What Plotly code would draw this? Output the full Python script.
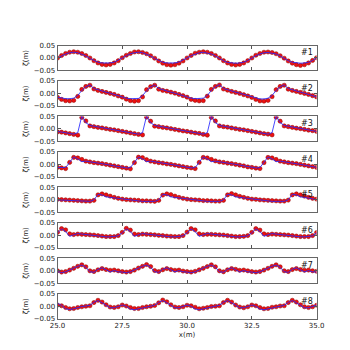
import numpy as np
import plotly.graph_objects as go

# sampling positions along the flume (m)
x = np.linspace(25.0, 35.0, 65)

# measured surface elevation (red dots) and model (blue line), gauges #1..#8
meas1 = [0.000, 0.010, 0.018, 0.023, 0.025, 0.023, 0.018, 0.010, 0.000, -0.011, -0.020, -0.026, -0.028, -0.026, -0.020, -0.011,
         0.001, 0.011, 0.018, 0.024, 0.025, 0.022, 0.017, 0.009, -0.001, -0.012, -0.021, -0.027, -0.029, -0.027, -0.021, -0.012,
         0.000, 0.010, 0.019, 0.023, 0.025, 0.023, 0.018, 0.010, 0.000, -0.011, -0.020, -0.026, -0.028, -0.026, -0.020, -0.011,
         0.000, 0.011, 0.018, 0.023, 0.024, 0.022, 0.017, 0.009, -0.001, -0.012, -0.021, -0.027, -0.030, -0.027, -0.020, -0.010,
         0.001]
model1 = [0.000, 0.009, 0.016, 0.021, 0.023, 0.021, 0.016, 0.008, -0.002, -0.011, -0.017, -0.020, -0.021, -0.020, -0.017, -0.010,
          0.000, 0.009, 0.017, 0.021, 0.023, 0.021, 0.016, 0.008, -0.002, -0.011, -0.017, -0.020, -0.021, -0.020, -0.016, -0.009,
          0.000, 0.009, 0.016, 0.021, 0.023, 0.021, 0.016, 0.008, -0.002, -0.011, -0.018, -0.021, -0.021, -0.020, -0.017, -0.010,
          0.000, 0.009, 0.016, 0.021, 0.022, 0.020, 0.016, 0.008, -0.002, -0.011, -0.017, -0.020, -0.021, -0.020, -0.017, -0.010,
          0.000]

meas2 = [-0.016, -0.024, -0.029, -0.030, -0.028, -0.012, 0.016, 0.028, 0.033, 0.018, 0.012, 0.008, 0.004, 0.000, -0.004, -0.010,
         -0.015, -0.023, -0.029, -0.031, -0.029, -0.014, 0.015, 0.027, 0.033, 0.017, 0.012, 0.009, 0.005, 0.001, -0.004, -0.009,
         -0.015, -0.024, -0.028, -0.030, -0.029, -0.011, 0.016, 0.028, 0.034, 0.018, 0.013, 0.008, 0.004, 0.000, -0.005, -0.010,
         -0.016, -0.024, -0.030, -0.031, -0.028, -0.013, 0.015, 0.028, 0.033, 0.017, 0.012, 0.008, 0.004, 0.000, -0.004, -0.009,
         -0.014]
model2 = [-0.015, -0.019, -0.021, -0.021, -0.019, -0.008, 0.012, 0.027, 0.034, 0.020, 0.014, 0.010, 0.005, 0.001, -0.004, -0.010,
          -0.015, -0.019, -0.021, -0.022, -0.020, -0.009, 0.011, 0.026, 0.034, 0.020, 0.014, 0.010, 0.005, 0.001, -0.004, -0.010,
          -0.015, -0.019, -0.021, -0.021, -0.019, -0.008, 0.012, 0.027, 0.035, 0.020, 0.014, 0.010, 0.005, 0.001, -0.004, -0.010,
          -0.015, -0.019, -0.022, -0.022, -0.019, -0.008, 0.012, 0.027, 0.034, 0.020, 0.014, 0.010, 0.005, 0.001, -0.004, -0.010,
          -0.014]

meas3 = [-0.012, -0.013, -0.016, -0.019, -0.022, -0.025, 0.046, 0.032, 0.012, 0.009, 0.006, 0.004, 0.001, -0.002, -0.004, -0.007,
         -0.010, -0.013, -0.016, -0.019, -0.022, -0.024, 0.047, 0.031, 0.011, 0.009, 0.006, 0.004, 0.001, -0.002, -0.005, -0.008,
         -0.010, -0.013, -0.016, -0.018, -0.022, -0.025, 0.046, 0.032, 0.012, 0.009, 0.007, 0.004, 0.001, -0.002, -0.004, -0.007,
         -0.010, -0.013, -0.016, -0.019, -0.021, -0.024, 0.047, 0.031, 0.012, 0.009, 0.006, 0.003, 0.001, -0.002, -0.005, -0.007,
         -0.010]
model3 = [-0.010, -0.013, -0.016, -0.019, -0.021, -0.015, 0.052, 0.025, 0.014, 0.011, 0.008, 0.005, 0.002, -0.001, -0.004, -0.007,
          -0.010, -0.013, -0.016, -0.019, -0.021, -0.015, 0.052, 0.025, 0.014, 0.011, 0.008, 0.005, 0.002, -0.001, -0.004, -0.007,
          -0.010, -0.013, -0.016, -0.019, -0.021, -0.015, 0.052, 0.025, 0.014, 0.011, 0.008, 0.005, 0.002, -0.001, -0.004, -0.007,
          -0.010, -0.013, -0.016, -0.019, -0.021, -0.015, 0.052, 0.025, 0.014, 0.011, 0.008, 0.005, 0.002, -0.001, -0.004, -0.007,
          -0.010]

meas4 = [-0.012, -0.014, -0.017, 0.008, 0.028, 0.026, 0.020, 0.013, 0.010, 0.007, 0.005, 0.003, 0.000, -0.003, -0.006, -0.009,
         -0.012, -0.015, -0.018, 0.007, 0.029, 0.027, 0.019, 0.013, 0.010, 0.007, 0.005, 0.002, 0.000, -0.003, -0.006, -0.009,
         -0.012, -0.014, -0.017, 0.008, 0.028, 0.026, 0.020, 0.014, 0.010, 0.008, 0.005, 0.003, 0.000, -0.003, -0.006, -0.010,
         -0.012, -0.015, -0.017, 0.007, 0.028, 0.026, 0.020, 0.013, 0.010, 0.007, 0.005, 0.003, 0.000, -0.003, -0.006, -0.009,
         -0.012]
model4 = [-0.012, -0.014, -0.013, 0.008, 0.030, 0.022, 0.011, 0.013, 0.011, 0.008, 0.005, 0.003, 0.000, -0.003, -0.006, -0.009,
          -0.012, -0.014, -0.013, 0.008, 0.030, 0.022, 0.011, 0.013, 0.011, 0.008, 0.005, 0.003, 0.000, -0.003, -0.006, -0.009,
          -0.012, -0.014, -0.013, 0.008, 0.030, 0.022, 0.011, 0.013, 0.011, 0.008, 0.005, 0.003, 0.000, -0.003, -0.006, -0.009,
          -0.012, -0.014, -0.013, 0.008, 0.030, 0.022, 0.011, 0.013, 0.011, 0.008, 0.005, 0.003, 0.000, -0.003, -0.006, -0.009,
          -0.012]

meas5 = [0.002, 0.001, 0.000, -0.001, -0.002, -0.003, -0.004, -0.005, -0.005, -0.002, 0.020, 0.024, 0.020, 0.015, 0.010, 0.006,
         0.003, 0.001, 0.000, -0.001, -0.002, -0.004, -0.004, -0.005, -0.006, -0.002, 0.019, 0.024, 0.021, 0.015, 0.010, 0.006,
         0.003, 0.001, 0.000, -0.001, -0.003, -0.003, -0.004, -0.005, -0.005, -0.002, 0.020, 0.025, 0.020, 0.014, 0.010, 0.006,
         0.003, 0.002, 0.000, -0.001, -0.002, -0.003, -0.004, -0.005, -0.005, -0.001, 0.020, 0.024, 0.020, 0.015, 0.010, 0.006,
         0.003]
model5 = [0.000, -0.001, -0.002, -0.003, -0.004, -0.006, -0.007, -0.007, -0.006, 0.000, 0.022, 0.020, 0.012, 0.010, 0.008, 0.004,
          0.001, -0.001, -0.002, -0.003, -0.004, -0.006, -0.007, -0.007, -0.006, 0.000, 0.022, 0.020, 0.012, 0.010, 0.008, 0.004,
          0.001, -0.001, -0.002, -0.003, -0.004, -0.006, -0.007, -0.007, -0.006, 0.000, 0.022, 0.020, 0.012, 0.010, 0.008, 0.004,
          0.001, -0.001, -0.002, -0.003, -0.004, -0.006, -0.007, -0.007, -0.006, 0.000, 0.022, 0.020, 0.012, 0.010, 0.008, 0.004,
          0.001]

meas6 = [0.012, 0.027, 0.022, 0.006, 0.003, 0.005, 0.004, 0.003, 0.002, 0.001, -0.001, -0.003, -0.005, -0.005, -0.005, -0.001,
         0.012, 0.028, 0.021, 0.005, 0.003, 0.005, 0.004, 0.003, 0.002, 0.000, -0.001, -0.003, -0.004, -0.005, -0.005, -0.001,
         0.013, 0.027, 0.022, 0.006, 0.003, 0.004, 0.004, 0.003, 0.002, 0.001, -0.001, -0.003, -0.005, -0.005, -0.004, -0.001,
         0.012, 0.027, 0.021, 0.006, 0.003, 0.005, 0.004, 0.003, 0.002, 0.001, -0.001, -0.003, -0.005, -0.005, -0.005, -0.001,
         0.011]
model6 = [0.010, 0.026, 0.015, -0.004, 0.002, 0.007, 0.005, 0.003, 0.002, 0.000, -0.002, -0.004, -0.006, -0.006, -0.005, -0.002,
          0.010, 0.026, 0.015, -0.004, 0.002, 0.007, 0.005, 0.003, 0.002, 0.000, -0.002, -0.004, -0.006, -0.006, -0.005, -0.002,
          0.010, 0.026, 0.015, -0.004, 0.002, 0.007, 0.005, 0.003, 0.002, 0.000, -0.002, -0.004, -0.006, -0.006, -0.005, -0.002,
          0.010, 0.026, 0.015, -0.004, 0.002, 0.007, 0.005, 0.003, 0.002, 0.000, -0.002, -0.004, -0.006, -0.006, -0.005, -0.002,
          0.010]

meas7 = [0.000, -0.005, -0.003, 0.003, 0.010, 0.018, 0.024, 0.016, 0.000, -0.003, 0.004, 0.009, 0.005, 0.002, 0.003, 0.000,
         -0.003, -0.005, -0.003, 0.003, 0.011, 0.018, 0.025, 0.017, 0.001, -0.003, 0.004, 0.009, 0.005, 0.002, 0.003, -0.001,
         -0.003, -0.005, -0.002, 0.004, 0.010, 0.017, 0.024, 0.016, 0.000, -0.004, 0.004, 0.009, 0.006, 0.002, 0.003, 0.000,
         -0.003, -0.005, -0.003, 0.003, 0.010, 0.018, 0.024, 0.016, 0.000, -0.003, 0.005, 0.009, 0.005, 0.002, 0.003, 0.000,
         -0.002]
model7 = [-0.003, -0.008, -0.004, 0.004, 0.011, 0.018, 0.023, 0.014, -0.004, -0.006, 0.006, 0.012, 0.004, -0.004, 0.001, -0.004,
          -0.005, -0.008, -0.004, 0.004, 0.011, 0.018, 0.023, 0.014, -0.004, -0.006, 0.006, 0.012, 0.004, -0.004, 0.001, -0.004,
          -0.005, -0.008, -0.004, 0.004, 0.011, 0.018, 0.023, 0.014, -0.004, -0.006, 0.006, 0.012, 0.004, -0.004, 0.001, -0.004,
          -0.005, -0.008, -0.004, 0.004, 0.011, 0.018, 0.023, 0.014, -0.004, -0.006, 0.006, 0.012, 0.004, -0.004, 0.001, -0.004,
          -0.005]

meas8 = [0.005, 0.002, -0.005, -0.010, -0.009, -0.005, -0.002, 0.000, 0.002, 0.015, 0.024, 0.017, 0.006, -0.003, -0.005, -0.002,
         0.005, 0.001, -0.005, -0.009, -0.009, -0.005, -0.002, 0.000, 0.003, 0.014, 0.025, 0.018, 0.006, -0.003, -0.005, -0.002,
         0.004, 0.002, -0.004, -0.010, -0.008, -0.005, -0.001, 0.000, 0.002, 0.015, 0.024, 0.017, 0.005, -0.003, -0.006, -0.002,
         0.005, 0.002, -0.005, -0.010, -0.009, -0.004, -0.002, 0.001, 0.002, 0.015, 0.024, 0.017, 0.006, -0.002, -0.005, -0.002,
         0.004]
model8 = [0.012, 0.004, -0.010, -0.013, -0.010, -0.005, -0.001, 0.001, 0.004, 0.016, 0.023, 0.014, 0.003, -0.006, -0.006, -0.001,
          0.005, 0.000, -0.011, -0.014, -0.010, -0.005, -0.001, 0.001, 0.004, 0.016, 0.023, 0.014, 0.003, -0.006, -0.006, -0.001,
          0.005, 0.000, -0.011, -0.014, -0.010, -0.005, -0.001, 0.001, 0.004, 0.016, 0.023, 0.014, 0.003, -0.006, -0.006, -0.001,
          0.005, 0.000, -0.011, -0.014, -0.010, -0.005, -0.001, 0.001, 0.004, 0.016, 0.023, 0.014, 0.003, -0.006, -0.006, -0.001,
          0.005]

gauge_labels = ["#1", "#2", "#3", "#4", "#5", "#6", "#7", "#8"]
x_ticks = [25.0, 27.5, 30.0, 32.5, 35.0]
y_ticks = [-0.05, 0.0, 0.05]

measured = [meas1, meas2, meas3, meas4, meas5, meas6, meas7, meas8]
modelled = [model1, model2, model3, model4, model5, model6, model7, model8]

W = 350
H = 350
x0, x1 = 43.5 / W, 315.0 / W
top0 = 34.3
pitch = 36.3
ph = 25.5

fig = go.Figure()
axfont = dict(family="DejaVu Sans", size=7, color="#222")

for i in range(8):
    n = "" if i == 0 else str(i + 1)
    top = top0 + pitch * i
    ydom = [1 - (top + ph) / H, 1 - top / H]
    fig.add_trace(go.Scatter(x=x, y=measured[i], mode="markers",
                             marker=dict(color="#ee1111", size=4.2,
                                         line=dict(color="#8b0000", width=0.5)),
                             xaxis="x" + n, yaxis="y" + n, showlegend=False))
    fig.add_trace(go.Scatter(x=x, y=modelled[i], mode="lines",
                             line=dict(color="rgba(40,40,255,0.85)", width=1),
                             xaxis="x" + n, yaxis="y" + n, showlegend=False))
    last = i == 7
    fig.layout["xaxis" + n] = dict(
        domain=[x0, x1], range=[25, 35], anchor="y" + n,
        tickvals=x_ticks, tickformat=".1f", showticklabels=last,
        ticks="inside", ticklen=3, tickcolor="#555", tickfont=axfont,
        showline=True, mirror="ticks", linecolor="#666", linewidth=1,
        showgrid=False, zeroline=False,
        title=dict(text="x(m)", font=axfont, standoff=2) if last else None)
    fig.layout["yaxis" + n] = dict(
        domain=ydom, range=[-0.05, 0.05], anchor="x" + n,
        tickvals=y_ticks, tickformat=".2f",
        ticks="inside", ticklen=3, tickcolor="#555", tickfont=axfont,
        showline=True, mirror="ticks", linecolor="#666", linewidth=1,
        showgrid=False, zeroline=False,
        title=dict(text="ζ(m)", font=axfont, standoff=4))
    fig.add_annotation(text=gauge_labels[i], xref="paper", yref="paper",
                       x=x1 - 2 / W, y=ydom[1] - 1 / H, xanchor="right", yanchor="top",
                       showarrow=False, font=dict(family="DejaVu Sans", size=8, color="#111"))

fig.update_layout(width=W, height=H, margin=dict(l=0, r=0, t=0, b=0),
                  paper_bgcolor="white", plot_bgcolor="white")

fig.write_html("out.html")
